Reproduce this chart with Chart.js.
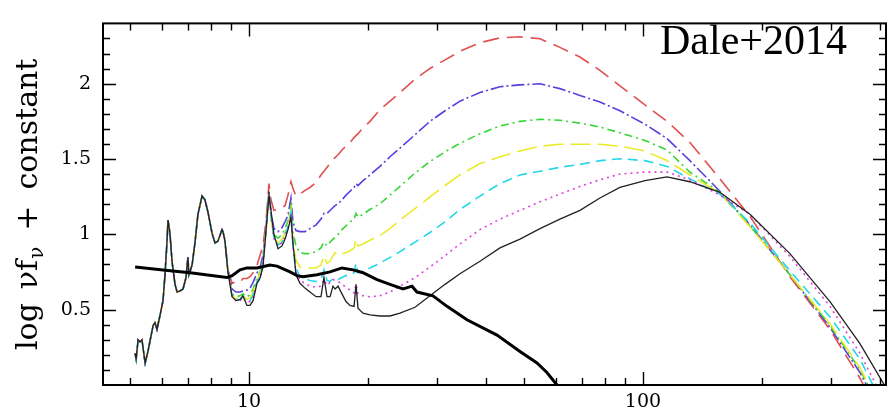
<!DOCTYPE html>
<html>
<head>
<meta charset="utf-8">
<script src="https://cdn.jsdelivr.net/npm/chart.js@4.4.1/dist/chart.umd.min.js"></script>
<style>
  body { margin: 0; background: #fff; }
  canvas { display: block; }
</style>
</head>
<body>
<canvas id="sed" width="888" height="414"></canvas>
<script>
// wavelength (micron) ticks along the log axis
const xTicks = [5, 6, 7, 8, 9, 10, 20, 30, 40, 50, 60, 70, 80, 90, 100, 200, 300, 400];
const xLabels = [10, 100];
const yLabels = [0.5, 1, 1.5, 2];

// PAH part shared by all the model curves (below ~8.6 micron)
const pahLam = [5.14, 5.17, 5.23, 5.29, 5.35, 5.45, 5.54, 5.71, 5.77, 5.84, 5.94, 6.05, 6.12, 6.19, 6.23, 6.30, 6.38, 6.49,
  6.57, 6.68, 6.80, 6.92, 7.00, 7.04, 7.17, 7.29, 7.42, 7.60, 7.73, 7.87, 8.06, 8.20, 8.34, 8.54, 8.59];
const pahLevel = [0.210, 0.172, 0.299, 0.286, 0.299, 0.146, 0.223, 0.395, 0.414, 0.369, 0.458, 0.560, 0.732, 0.942, 1.095, 1.006, 0.815, 0.668,
  0.617, 0.624, 0.637, 0.713, 0.847, 0.732, 0.796, 0.942, 1.133, 1.254, 1.229, 1.146, 1.006, 0.942, 0.955, 1.031, 1.018];

// rest of the spectrum, one grid for every model curve
const lam = [8.69, 8.84, 9.06, 9.27, 9.49, 9.65, 9.88, 10.06, 10.24, 10.48, 10.66, 10.85, 11.04, 11.24, 11.37, 11.57, 11.85, 12.13,
  12.34, 12.56, 12.78, 12.93, 13.16, 13.47, 13.87, 14.28, 14.80, 15.23, 15.50, 15.78, 16.06, 16.34, 16.54, 16.83, 17.22, 17.63,
  18.05, 18.48, 18.69, 18.91, 19.47, 20.28, 21.50, 22.80, 24.17, 26.39, 28.80, 31.45, 34.32, 38.58, 43.36, 48.74, 54.78, 61.56,
  69.20, 77.78, 87.42, 101.2, 115.1, 131.6, 156.8, 186.9, 236.1, 298.4, 355.5, 414.0];

const sedRed = [0.968, 0.764, 0.675, 0.687, 0.681, 0.707, 0.707, 0.719, 0.745, 0.796, 0.859, 0.923, 1.082, 1.337, 1.229, 1.159, 1.165, 1.178,
  1.190, 1.260, 1.349, 1.305, 1.254, 1.267, 1.292, 1.311, 1.343, 1.394, 1.419, 1.445, 1.470, 1.496, 1.509, 1.528, 1.560, 1.585,
  1.610, 1.642, 1.655, 1.668, 1.706, 1.750, 1.827, 1.884, 1.941, 2.030, 2.101, 2.158, 2.215, 2.272, 2.304, 2.311, 2.298, 2.241,
  2.177, 2.088, 1.986, 1.859, 1.750, 1.610, 1.369, 1.120, 0.719, 0.369, 0.045, -0.286];
const sedBlue = [0.955, 0.764, 0.637, 0.617, 0.617, 0.624, 0.630, 0.643, 0.681, 0.745, 0.777, 0.859, 1.038, 1.286, 1.146, 1.038, 1.018, 1.044,
  1.082, 1.127, 1.241, 1.082, 1.025, 1.018, 1.018, 1.038, 1.063, 1.101, 1.139, 1.139, 1.158, 1.178, 1.190, 1.203, 1.229, 1.260,
  1.286, 1.311, 1.337, 1.324, 1.356, 1.394, 1.451, 1.515, 1.572, 1.661, 1.750, 1.820, 1.884, 1.941, 1.980, 1.992, 1.999, 1.967,
  1.922, 1.878, 1.820, 1.731, 1.636, 1.489, 1.286, 1.063, 0.732, 0.382, 0.083, -0.255];
const sedGreen = [0.955, 0.758, 0.605, 0.586, 0.592, 0.605, 0.586, 0.598, 0.637, 0.713, 0.745, 0.828, 1.018, 1.273, 1.114, 0.999, 0.974, 0.999,
  1.038, 1.088, 1.190, 1.018, 0.923, 0.878, 0.872, 0.872, 0.885, 0.910, 0.948, 0.923, 0.948, 0.968, 0.980, 0.999, 1.031, 1.057,
  1.082, 1.101, 1.139, 1.114, 1.133, 1.165, 1.203, 1.260, 1.318, 1.407, 1.483, 1.547, 1.604, 1.668, 1.719, 1.750, 1.763, 1.757,
  1.738, 1.712, 1.674, 1.623, 1.560, 1.413, 1.279, 1.057, 0.732, 0.395, 0.102, -0.236];
const sedYellow = [0.955, 0.758, 0.592, 0.573, 0.573, 0.592, 0.567, 0.579, 0.617, 0.694, 0.732, 0.808, 1.018, 1.267, 1.114, 0.974, 0.942, 0.968,
  1.012, 1.063, 1.165, 0.955, 0.828, 0.783, 0.777, 0.777, 0.777, 0.796, 0.859, 0.808, 0.821, 0.859, 0.878, 0.859, 0.872, 0.878,
  0.891, 0.910, 0.968, 0.923, 0.936, 0.961, 0.993, 1.038, 1.095, 1.171, 1.248, 1.324, 1.394, 1.470, 1.515, 1.553, 1.585, 1.598,
  1.598, 1.598, 1.585, 1.553, 1.490, 1.394, 1.273, 1.050, 0.732, 0.407, 0.115, -0.223];
const sedCyan = [0.955, 0.758, 0.586, 0.567, 0.567, 0.586, 0.554, 0.560, 0.598, 0.687, 0.719, 0.796, 1.018, 1.267, 1.127, 0.974, 0.929, 0.948,
  0.999, 1.050, 1.146, 0.923, 0.777, 0.719, 0.707, 0.694, 0.687, 0.700, 0.764, 0.694, 0.687, 0.707, 0.700, 0.700, 0.713, 0.726,
  0.732, 0.745, 0.808, 0.745, 0.758, 0.777, 0.808, 0.847, 0.885, 0.948, 1.012, 1.082, 1.165, 1.254, 1.337, 1.394, 1.419, 1.445,
  1.464, 1.489, 1.502, 1.489, 1.451, 1.368, 1.267, 1.076, 0.758, 0.452, 0.172, -0.172];
const sedMagenta = [0.955, 0.758, 0.586, 0.560, 0.560, 0.579, 0.547, 0.554, 0.586, 0.681, 0.713, 0.789, 1.018, 1.267, 1.146, 0.974, 0.923, 0.942,
  0.987, 1.044, 1.133, 0.923, 0.751, 0.694, 0.675, 0.656, 0.649, 0.656, 0.700, 0.662, 0.681, 0.700, 0.694, 0.687, 0.668, 0.649,
  0.630, 0.611, 0.668, 0.605, 0.592, 0.586, 0.592, 0.617, 0.656, 0.713, 0.783, 0.859, 0.936, 1.031, 1.101, 1.159, 1.216, 1.267,
  1.318, 1.362, 1.400, 1.413, 1.413, 1.362, 1.260, 1.133, 0.853, 0.522, 0.210, -0.127];
const sedBlack = [0.955, 0.751, 0.586, 0.560, 0.567, 0.592, 0.528, 0.528, 0.560, 0.675, 0.707, 0.783, 1.018, 1.260, 1.159, 0.999, 0.904, 0.923,
  0.968, 1.031, 1.114, 0.942, 0.732, 0.675, 0.643, 0.617, 0.586, 0.586, 0.713, 0.586, 0.586, 0.656, 0.637, 0.656, 0.605, 0.554,
  0.528, 0.522, 0.668, 0.509, 0.477, 0.465, 0.458, 0.458, 0.477, 0.516, 0.592, 0.668, 0.738, 0.821, 0.910, 0.968, 1.038, 1.101,
  1.159, 1.241, 1.311, 1.356, 1.381, 1.349, 1.279, 1.133, 0.872, 0.554, 0.274, -0.019];

// thick black curve (its own grid)
const starLam = [5.14, 6.05, 7.09, 8.79, 9.06, 9.49, 9.88, 10.48, 11.30, 11.78, 12.71, 13.24, 13.71, 14.88, 16.06, 17.22,
  18.37, 19.47, 21.13, 22.80, 24.60, 25.93, 26.70, 29.31, 31.82, 35.75, 42.61, 48.74, 53.83, 57.05, 60.49, 63.39];
const starLevel = [0.783, 0.764, 0.745, 0.713, 0.726, 0.764, 0.777, 0.777, 0.796, 0.789, 0.751, 0.726, 0.719, 0.732, 0.751, 0.777,
  0.764, 0.745, 0.700, 0.668, 0.637, 0.656, 0.617, 0.592, 0.522, 0.433, 0.331, 0.223, 0.146, 0.083, 0.000, -0.064];

function modelCurve(values) {
  const head = pahLam.map((x, i) => ({ x, y: pahLevel[i] }));
  return head.concat(lam.map((x, i) => ({ x, y: values[i] })));
}

function isMajorY(v) {
  return yLabels.includes(Math.round(v * 10) / 10);
}

const frameTicks = {
  id: "frameTicks",
  afterDraw(chart) {
    const { ctx, chartArea: a, scales: { x, y } } = chart;
    ctx.save();
    ctx.strokeStyle = "#000";
    ctx.lineWidth = 1.4;
    ctx.beginPath();
    x.ticks.forEach(t => {
      const px = Math.round(x.getPixelForValue(t.value)) + 0.5;
      const len = xLabels.includes(t.value) ? 13 : 7;
      ctx.moveTo(px, a.bottom); ctx.lineTo(px, a.bottom - len);
      ctx.moveTo(px, a.top); ctx.lineTo(px, a.top + len);
    });
    y.ticks.forEach(t => {
      if (t.value <= 0 || t.value >= 2.4) return;
      const py = Math.round(y.getPixelForValue(t.value)) + 0.5;
      const len = isMajorY(t.value) ? 13 : 7;
      ctx.moveTo(a.left, py); ctx.lineTo(a.left + len, py);
      ctx.moveTo(a.right, py); ctx.lineTo(a.right - len, py);
    });
    ctx.stroke();
    ctx.lineWidth = 2;
    ctx.strokeRect(a.left, a.top, a.right - a.left, a.bottom - a.top);

    // y axis title: log nu f_nu + constant
    ctx.fillStyle = "#000";
    ctx.translate(37, 350);
    ctx.rotate(-Math.PI / 2);
    ctx.textBaseline = "alphabetic";
    ctx.textAlign = "left";
    let s = 0;
    ctx.font = "30px 'DejaVu Serif'";
    ctx.fillText("log", s, 0);
    s += ctx.measureText("log").width + 14;
    ctx.fillText("\u03bdf", s, 0);
    s += ctx.measureText("\u03bdf").width + 1;
    ctx.font = "20px 'DejaVu Serif'";
    ctx.fillText("\u03bd", s, 6);
    s += ctx.measureText("\u03bd").width + 16;
    ctx.font = "30px 'DejaVu Serif'";
    ctx.fillText("+", s, 0);
    s += ctx.measureText("+").width + 16;
    ctx.fillText("constant", s, 0);
    ctx.restore();

    ctx.save();
    ctx.fillStyle = "#000";
    ctx.font = "42px 'Liberation Serif'";
    ctx.textBaseline = "alphabetic";
    ctx.fillText("Dale+2014", 660, 54);
    ctx.restore();
  }
};

const tickFont = { family: "DejaVu Serif", size: 19 };

new Chart(document.getElementById("sed"), {
  type: "line",
  data: {
    datasets: [
      { data: starLam.map((x, i) => ({ x, y: starLevel[i] })), borderColor: "#000", borderWidth: 3 },
      { data: modelCurve(sedBlack), borderColor: "#222", borderWidth: 1.3 },
      { data: modelCurve(sedMagenta), borderColor: "#e040e0", borderWidth: 1.6, borderDash: [2, 4] },
      { data: modelCurve(sedCyan), borderColor: "#22d8e8", borderWidth: 1.6, borderDash: [10, 6] },
      { data: modelCurve(sedYellow), borderColor: "#eaea2a", borderWidth: 1.6, borderDash: [20, 7] },
      { data: modelCurve(sedGreen), borderColor: "#33d633", borderWidth: 1.6, borderDash: [8, 4, 2, 4] },
      { data: modelCurve(sedBlue), borderColor: "#5a3ee0", borderWidth: 1.6, borderDash: [13, 3, 2, 3] },
      { data: modelCurve(sedRed), borderColor: "#e05050", borderWidth: 1.6, borderDash: [16, 8] }
    ]
  },
  options: {
    responsive: false,
    animation: false,
    devicePixelRatio: 1,
    layout: { padding: { top: 8, right: 2, left: 0, bottom: 0 } },
    elements: { point: { radius: 0 }, line: { tension: 0, fill: false } },
    datasets: { line: { clip: 0 } },
    plugins: { legend: { display: false }, tooltip: { enabled: false } },
    scales: {
      x: {
        type: "logarithmic",
        min: 4.26,
        max: 414,
        grid: { display: false, drawTicks: false },
        border: { display: false },
        afterBuildTicks: scale => { scale.ticks = xTicks.map(v => ({ value: v })); },
        afterFit: scale => { scale.height = 29; },
        ticks: {
          autoSkip: false,
          maxRotation: 0,
          padding: 6,
          color: "#000",
          font: tickFont,
          callback: v => xLabels.includes(v) ? String(v) : ""
        }
      },
      y: {
        min: 0,
        max: 2.4,
        grid: { display: false, drawTicks: false },
        border: { display: false },
        afterFit: scale => { scale.width = 103; },
        ticks: {
          stepSize: 0.1,
          autoSkip: false,
          padding: 12,
          color: "#000",
          font: tickFont,
          callback: v => isMajorY(v) ? String(Math.round(v * 10) / 10) : ""
        }
      }
    }
  },
  plugins: [frameTicks]
});
</script>
</body>
</html>
